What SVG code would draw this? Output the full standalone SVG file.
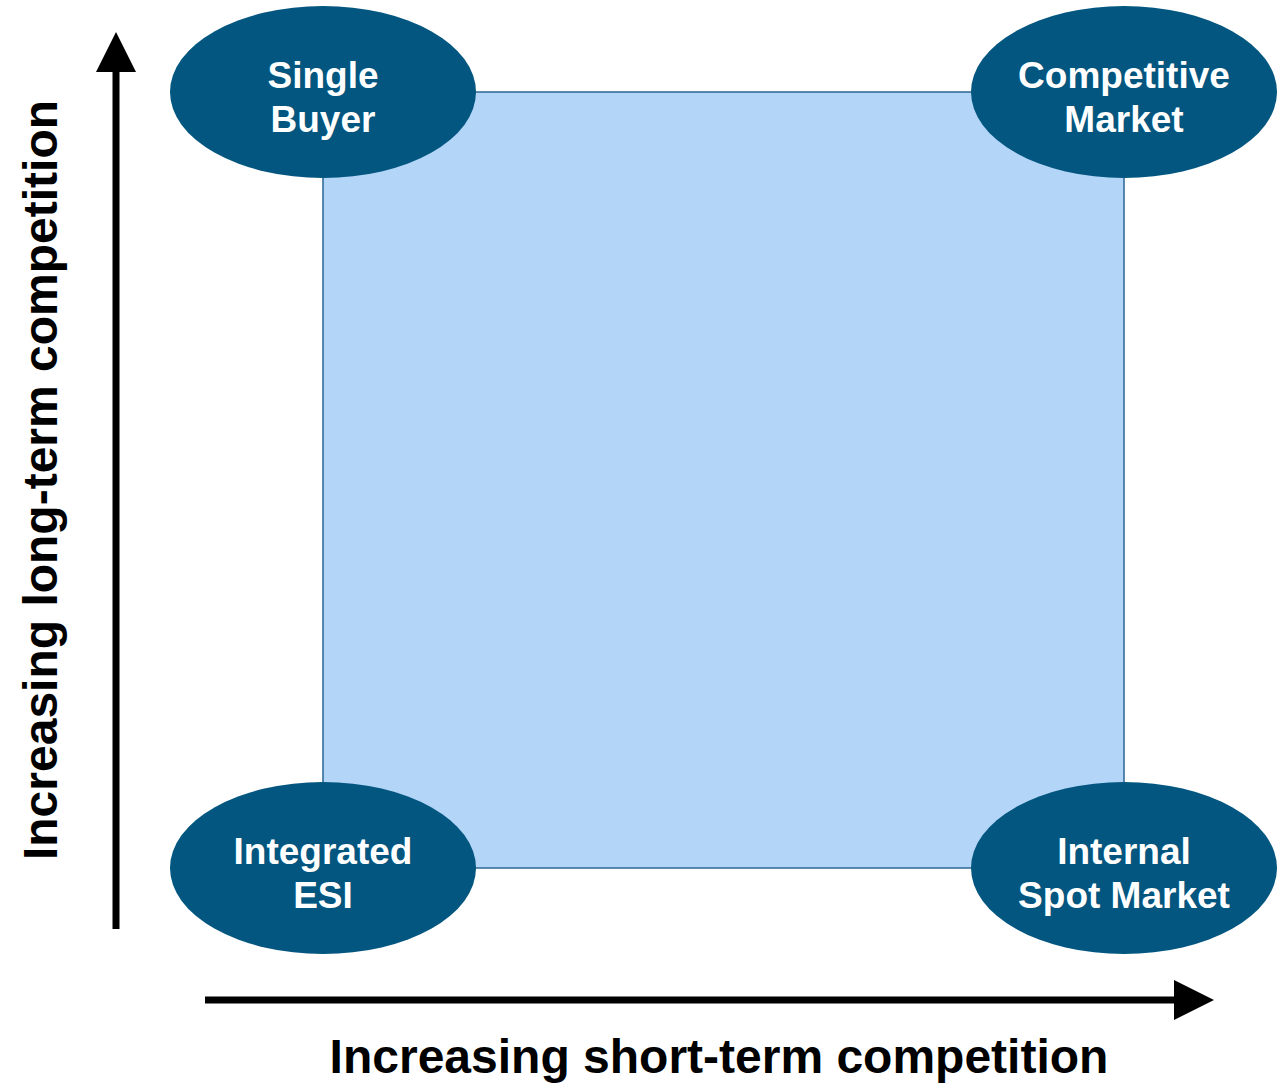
<svg xmlns="http://www.w3.org/2000/svg" width="1278" height="1084" viewBox="0 0 1278 1084">
<style>
.node ellipse{fill:#02567f}
.node text{font-family:"Liberation Sans",Arial,sans-serif;font-weight:bold;font-size:37px;fill:#fff;text-anchor:middle}
.axis{font-family:"Liberation Sans",Arial,sans-serif;font-weight:bold;font-size:48px;fill:#000;text-anchor:middle}
.ax{stroke:#000;stroke-width:7;fill:none}
</style>
<defs>
<marker id="ah" markerUnits="userSpaceOnUse" markerWidth="40" markerHeight="40" refX="0" refY="20" orient="auto" viewBox="0 0 40 40">
<path d="M0,0 L40,20 L0,40 Z" fill="#000"/>
</marker>
</defs>
<rect id="region" x="323" y="92" width="801" height="776" fill="#b3d5f8" stroke="#2a6694" stroke-width="1.5"/>
<g id="connectors">
<line class="ax" x1="116" y1="929" x2="116" y2="72" marker-end="url(#ah)"/>
<line class="ax" x1="205" y1="1000" x2="1174" y2="1000" marker-end="url(#ah)"/>
</g>
<g id="single-buyer" class="node">
<ellipse cx="323" cy="92" rx="153" ry="86"/>
<text x="323" y="88">Single</text>
<text x="323" y="132">Buyer</text>
</g>
<g id="competitive-market" class="node">
<ellipse cx="1124" cy="92" rx="153" ry="86"/>
<text x="1124" y="88">Competitive</text>
<text x="1124" y="132">Market</text>
</g>
<g id="integrated-esi" class="node">
<ellipse cx="323" cy="868" rx="153" ry="86"/>
<text x="323" y="864">Integrated</text>
<text x="323" y="908">ESI</text>
</g>
<g id="internal-spot-market" class="node">
<ellipse cx="1124" cy="868" rx="153" ry="86"/>
<text x="1124" y="864">Internal</text>
<text x="1124" y="908">Spot Market</text>
</g>
<text class="axis" x="719" y="1073">Increasing short-term competition</text>
<text class="axis" transform="translate(57,480) rotate(-90)">Increasing long-term competition</text>
</svg>
